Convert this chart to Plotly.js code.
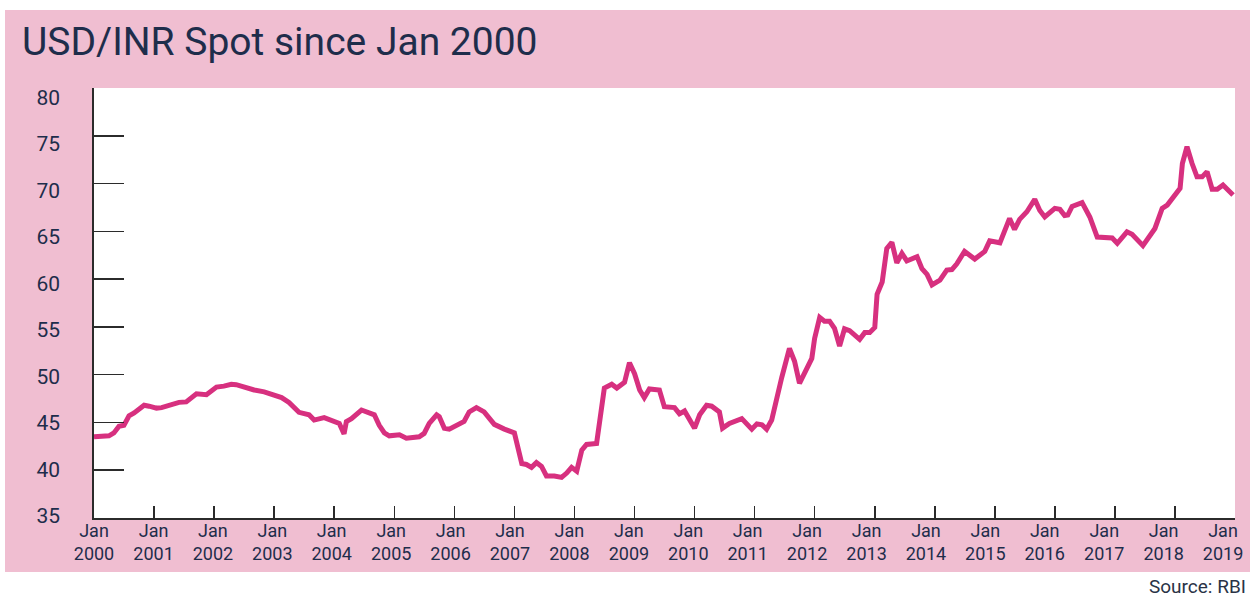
<!DOCTYPE html>
<html><head><meta charset="utf-8">
<script src="https://cdn.plot.ly/plotly-3.0.1.min.js"></script>
<style>html,body{margin:0;padding:0;background:#fff;} #chart{width:1255px;height:597px;}</style>
</head><body><div id="chart"></div>
<script>
const dates = [
'2000-01-01','2000-04-01','2000-05-01','2000-06-01','2000-07-01','2000-08-01','2000-09-01','2000-11-01','2000-12-01',
'2001-01-15','2001-02-15','2001-04-15','2001-06-01','2001-07-15','2001-08-15','2001-09-15','2001-11-15',
'2002-01-15','2002-03-01','2002-04-15','2002-05-15','2002-07-15','2002-09-01','2002-11-01',
'2003-01-01','2003-02-15','2003-04-01','2003-06-01','2003-08-01','2003-09-01','2003-11-01','2003-12-15',
'2004-02-01','2004-03-01','2004-03-15','2004-04-15','2004-06-15','2004-09-01','2004-10-01','2004-11-01','2004-12-01',
'2005-02-01','2005-03-15','2005-06-01','2005-07-01','2005-08-01','2005-09-15','2005-10-01','2005-11-01','2005-12-01',
'2006-01-15','2006-03-01','2006-04-01','2006-05-15','2006-07-01','2006-09-01','2006-11-01',
'2007-01-01','2007-02-15','2007-03-15','2007-04-15','2007-05-15','2007-06-15','2007-07-15','2007-09-01','2007-10-15','2007-11-15','2007-12-15',
'2008-01-15','2008-02-15','2008-03-15','2008-05-15','2008-07-01','2008-08-15','2008-09-15','2008-11-01','2008-12-01',
'2009-01-01','2009-02-01','2009-03-01','2009-04-01','2009-06-01','2009-07-01','2009-09-01','2009-10-01','2009-11-01',
'2010-01-01','2010-02-01','2010-03-15','2010-04-15','2010-06-01','2010-06-20','2010-08-01','2010-09-01','2010-10-15','2010-12-15',
'2011-01-15','2011-02-15','2011-03-15','2011-04-15','2011-05-15','2011-06-15','2011-08-01','2011-09-01','2011-10-01','2011-11-15','2011-12-15',
'2012-01-01','2012-02-01','2012-03-01','2012-04-01','2012-05-01','2012-06-01','2012-07-01','2012-08-01','2012-10-01','2012-11-01','2012-12-01',
'2013-01-01','2013-01-15','2013-02-15','2013-03-15','2013-04-15','2013-05-15','2013-06-15','2013-07-15','2013-09-15','2013-10-15','2013-11-15','2013-12-15',
'2014-02-01','2014-03-15','2014-04-15','2014-05-15','2014-07-01','2014-09-01','2014-11-01','2014-12-01',
'2015-02-01','2015-04-01','2015-05-01','2015-06-01','2015-07-15','2015-09-01','2015-10-01','2015-11-01',
'2016-01-01','2016-02-01','2016-03-01','2016-03-20','2016-04-15','2016-06-15','2016-08-01','2016-09-15','2016-12-15',
'2017-01-15','2017-03-15','2017-04-15','2017-06-20','2017-09-01','2017-10-15','2017-11-15',
'2018-02-01','2018-02-15','2018-03-15','2018-04-15','2018-05-15','2018-06-15','2018-07-15','2018-08-15','2018-09-15','2018-10-20','2018-11-20','2018-12-20'
];
const usdInr = [
43.5,43.6,43.9,44.6,44.7,45.7,46.0,46.8,46.7,
46.5,46.55,46.9,47.1,47.15,47.6,48.0,47.9,
48.7,48.8,49.0,48.95,48.6,48.4,48.2,
47.8,47.6,47.1,46.06,45.8,45.25,45.5,45.25,
44.9,43.8,45.1,45.4,46.3,45.8,44.7,43.9,43.6,
43.7,43.35,43.5,43.85,44.9,45.8,45.6,44.4,44.3,
44.7,45.1,46.1,46.55,46.1,44.8,44.3,
43.9,40.7,40.6,40.3,40.8,40.4,39.4,39.4,39.25,39.7,40.3,
39.9,42.1,42.7,42.8,48.6,49.0,48.6,49.2,51.25,
50.1,48.4,47.6,48.5,48.4,46.65,46.55,45.9,46.2,
44.4,45.8,46.8,46.7,46.1,44.4,44.9,45.15,45.4,44.3,
44.85,44.75,44.3,45.25,47.6,49.7,52.75,51.4,49.1,50.5,51.7,
53.8,56.0,55.6,55.6,54.85,53.0,54.8,54.6,53.7,54.4,54.4,
54.95,58.4,59.7,63.2,63.85,61.7,62.7,61.9,62.35,61.1,60.5,59.4,
59.9,60.95,61.0,61.6,62.9,62.1,62.9,64.0,
63.8,66.35,65.2,66.25,67.05,68.35,67.2,66.5,
67.4,67.3,66.65,66.7,67.6,68.0,66.5,64.4,64.3,
63.75,64.95,64.7,63.5,65.3,67.4,67.75,
69.5,72.1,73.85,72.1,70.7,70.7,71.25,69.4,69.4,69.85,69.4,68.8
];
const tickDates = ['2000-01-01','2001-01-01','2002-01-01','2003-01-01','2004-01-01','2005-01-01','2006-01-01','2007-01-01','2008-01-01','2009-01-01','2010-01-01','2011-01-01','2012-01-01','2013-01-01','2014-01-01','2015-01-01','2016-01-01','2017-01-01','2018-01-01','2019-01-01'];
const tickLabels = ['Jan<br>2000','Jan<br>2001','Jan<br>2002','Jan<br>2003','Jan<br>2004','Jan<br>2005','Jan<br>2006','Jan<br>2007','Jan<br>2008','Jan<br>2009','Jan<br>2010','Jan<br>2011','Jan<br>2012','Jan<br>2013','Jan<br>2014','Jan<br>2015','Jan<br>2016','Jan<br>2017','Jan<br>2018','Jan<br>2019'];
const yTicks = [35,40,45,50,55,60,65,70,75,80];

const navy = '#1e2d4b';
const pink = '#f0bed1';
const lineCol = '#d7307f';
const font = 'Roboto, "Liberation Sans", sans-serif';
const xr = ['2000-01-01','2019-01-01'];
const yr = [35,80];

const layout = {
  width:1255, height:597,
  margin:{l:94, r:20, t:88, b:79, pad:0},
  paper_bgcolor:'#ffffff', plot_bgcolor:'rgba(0,0,0,0)',
  showlegend:false,
  title:{text:'USD/INR Spot since Jan 2000', font:{family:font, size:39, color:navy},
         xref:'container', x:22/1255, xanchor:'left', yref:'container', y:1-41/597, yanchor:'middle'},
  xaxis:{type:'date', range:xr, tickmode:'array', tickvals:tickDates, showticklabels:false,
         ticks:'inside', ticklen:12, tickwidth:1.5, tickcolor:'#2b2b2b',
         showline:true, linecolor:'#2b2b2b', linewidth:2, showgrid:false, zeroline:false, fixedrange:true},
  xaxis2:{type:'date', range:xr, domain:[0,0.9895], anchor:'y',
          tickmode:'array', tickvals:tickDates, ticktext:tickLabels, ticks:'', ticklabelstandoff:0,
          showline:false, showgrid:false, zeroline:false,
          tickfont:{family:font, size:18, color:navy}, fixedrange:true},
  yaxis:{range:yr, tickmode:'array', tickvals:yTicks, showticklabels:false,
         ticks:'inside', ticklen:30, tickwidth:1.5, tickcolor:'#2b2b2b',
         showline:true, linecolor:'#2b2b2b', linewidth:2, showgrid:false, zeroline:false, fixedrange:true},
  yaxis2:{range:yr, domain:[0.0053,0.978], anchor:'x', tickmode:'array', tickvals:yTicks,
          ticks:'', showline:false, showgrid:false, zeroline:false, ticklabelstandoff:33,
          tickfont:{family:font, size:21, color:navy}, fixedrange:true},
  shapes:[
    {type:'rect', xref:'paper', yref:'paper', x0:(5-94)/1141, x1:(1250-94)/1141, y0:(518-572)/430, y1:(518-10)/430,
     fillcolor:pink, line:{width:0}, layer:'below'},
    {type:'rect', xref:'paper', yref:'paper', x0:0, x1:1, y0:0, y1:1, fillcolor:'#ffffff', line:{width:0}, layer:'below'}
  ],
  annotations:[
    {text:'Source: RBI', xref:'paper', yref:'paper', x:(1248-94)/1141, y:(518-586)/430, xanchor:'right', yanchor:'middle',
     showarrow:false, font:{family:font, size:19, color:'#2a3346'}}
  ]
};

const data = [
  {type:'scatter', mode:'lines', x:dates, y:usdInr, xaxis:'x', yaxis:'y',
   line:{color:lineCol, width:5, shape:'linear'}, hoverinfo:'skip'},
  {type:'scatter', mode:'none', x:xr, y:yr, xaxis:'x2', yaxis:'y', hoverinfo:'skip'},
  {type:'scatter', mode:'none', x:xr, y:yr, xaxis:'x', yaxis:'y2', hoverinfo:'skip'}
];

Plotly.newPlot('chart', data, layout, {displayModeBar:false, staticPlot:true});
</script>
</body></html>
